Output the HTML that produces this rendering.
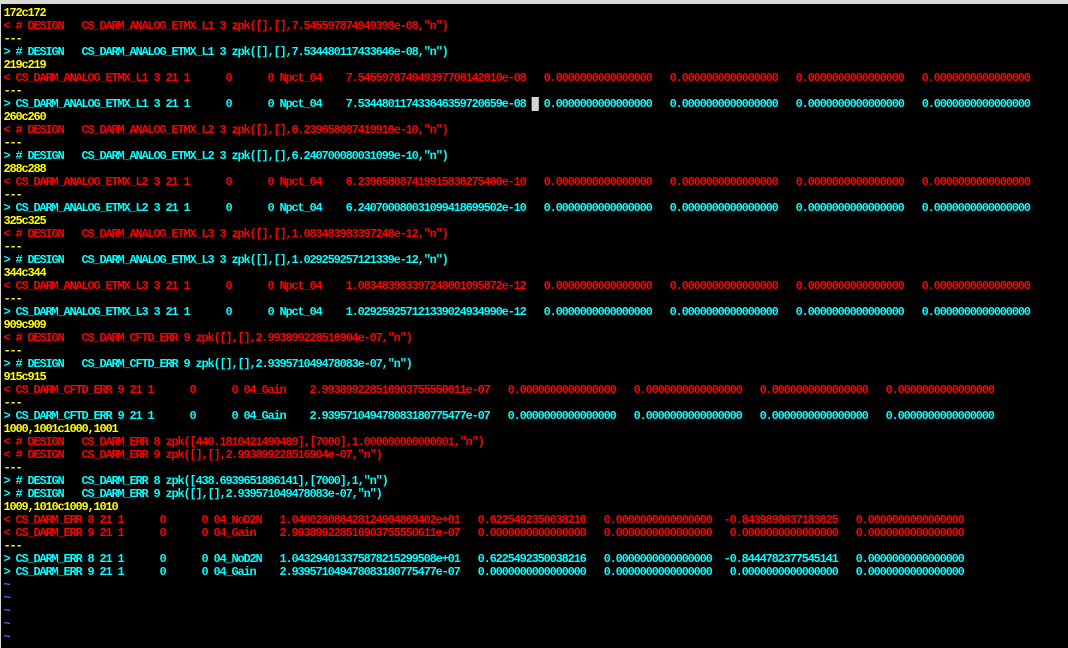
<!DOCTYPE html>
<html><head><meta charset="utf-8">
<style>
html,body{margin:0;padding:0;background:#000;width:1068px;height:648px;overflow:hidden;position:relative}
#top{position:absolute;left:0;top:0;width:1068px;height:4px;background:#dcd9d6}
#lft{position:absolute;left:0;top:4px;width:1px;height:644px;background:#d8d8d8}
pre{position:absolute;left:3.5px;top:6.5px;margin:0;font-family:"Liberation Mono",monospace;font-size:12px;font-weight:bold;letter-spacing:-1.2px;line-height:13px;white-space:pre}
.y{color:#ffff00}.r{color:#ff0000}.c{color:#00ffff}.b{color:#6060ff}
.cur{background:#d4d4d4;color:#d4d4d4}
</style></head><body>
<div id="top"></div><div id="lft"></div>
<pre><span class="y">172c172</span>
<span class="r">&lt; # DESIGN   CS_DARM_ANALOG_ETMX_L1 3 zpk([],[],7.545597874949398e-08,"n")</span>
<span class="y">---</span>
<span class="c">&gt; # DESIGN   CS_DARM_ANALOG_ETMX_L1 3 zpk([],[],7.534480117433646e-08,"n")</span>
<span class="y">219c219</span>
<span class="r">&lt; CS_DARM_ANALOG_ETMX_L1 3 21 1      0      0 Npct_04    7.545597874949397706142610e-08   0.0000000000000000   0.0000000000000000   0.0000000000000000   0.0000000000000000</span>
<span class="y">---</span>
<span class="c">&gt; CS_DARM_ANALOG_ETMX_L1 3 21 1      0      0 Npct_04    7.534480117433646359720659e-08 </span><span class="cur">█</span><span class="c"> 0.0000000000000000   0.0000000000000000   0.0000000000000000   0.0000000000000000</span>
<span class="y">260c260</span>
<span class="r">&lt; # DESIGN   CS_DARM_ANALOG_ETMX_L2 3 zpk([],[],6.239658087419916e-10,"n")</span>
<span class="y">---</span>
<span class="c">&gt; # DESIGN   CS_DARM_ANALOG_ETMX_L2 3 zpk([],[],6.240700080031099e-10,"n")</span>
<span class="y">288c288</span>
<span class="r">&lt; CS_DARM_ANALOG_ETMX_L2 3 21 1      0      0 Npct_04    6.239658087419915836275460e-10   0.0000000000000000   0.0000000000000000   0.0000000000000000   0.0000000000000000</span>
<span class="y">---</span>
<span class="c">&gt; CS_DARM_ANALOG_ETMX_L2 3 21 1      0      0 Npct_04    6.240700080031099418699502e-10   0.0000000000000000   0.0000000000000000   0.0000000000000000   0.0000000000000000</span>
<span class="y">325c325</span>
<span class="r">&lt; # DESIGN   CS_DARM_ANALOG_ETMX_L3 3 zpk([],[],1.083483983397248e-12,"n")</span>
<span class="y">---</span>
<span class="c">&gt; # DESIGN   CS_DARM_ANALOG_ETMX_L3 3 zpk([],[],1.029259257121339e-12,"n")</span>
<span class="y">344c344</span>
<span class="r">&lt; CS_DARM_ANALOG_ETMX_L3 3 21 1      0      0 Npct_04    1.083483983397248001095872e-12   0.0000000000000000   0.0000000000000000   0.0000000000000000   0.0000000000000000</span>
<span class="y">---</span>
<span class="c">&gt; CS_DARM_ANALOG_ETMX_L3 3 21 1      0      0 Npct_04    1.029259257121339024934990e-12   0.0000000000000000   0.0000000000000000   0.0000000000000000   0.0000000000000000</span>
<span class="y">909c909</span>
<span class="r">&lt; # DESIGN   CS_DARM_CFTD_ERR 9 zpk([],[],2.993899228516904e-07,"n")</span>
<span class="y">---</span>
<span class="c">&gt; # DESIGN   CS_DARM_CFTD_ERR 9 zpk([],[],2.939571049478083e-07,"n")</span>
<span class="y">915c915</span>
<span class="r">&lt; CS_DARM_CFTD_ERR 9 21 1      0      0 04_Gain    2.993899228516903755550611e-07   0.0000000000000000   0.0000000000000000   0.0000000000000000   0.0000000000000000</span>
<span class="y">---</span>
<span class="c">&gt; CS_DARM_CFTD_ERR 9 21 1      0      0 04_Gain    2.939571049478083180775477e-07   0.0000000000000000   0.0000000000000000   0.0000000000000000   0.0000000000000000</span>
<span class="y">1000,1001c1000,1001</span>
<span class="r">&lt; # DESIGN   CS_DARM_ERR 8 zpk([440.1810421490489],[7000],1.000000000000001,"n")</span>
<span class="r">&lt; # DESIGN   CS_DARM_ERR 9 zpk([],[],2.993899228516904e-07,"n")</span>
<span class="y">---</span>
<span class="c">&gt; # DESIGN   CS_DARM_ERR 8 zpk([438.6939651886141],[7000],1,"n")</span>
<span class="c">&gt; # DESIGN   CS_DARM_ERR 9 zpk([],[],2.939571049478083e-07,"n")</span>
<span class="y">1009,1010c1009,1010</span>
<span class="r">&lt; CS_DARM_ERR 8 21 1      0      0 04_NoD2N   1.040028086428124964868402e+01   0.6225492350038216   0.0000000000000000  -0.8439898637183625   0.0000000000000000</span>
<span class="r">&lt; CS_DARM_ERR 9 21 1      0      0 04_Gain    2.993899228516903755550611e-07   0.0000000000000000   0.0000000000000000   0.0000000000000000   0.0000000000000000</span>
<span class="y">---</span>
<span class="c">&gt; CS_DARM_ERR 8 21 1      0      0 04_NoD2N   1.043294013375878215299508e+01   0.6225492350038216   0.0000000000000000  -0.8444782377545141   0.0000000000000000</span>
<span class="c">&gt; CS_DARM_ERR 9 21 1      0      0 04_Gain    2.939571049478083180775477e-07   0.0000000000000000   0.0000000000000000   0.0000000000000000   0.0000000000000000</span>
<span class="b">~</span>
<span class="b">~</span>
<span class="b">~</span>
<span class="b">~</span>
<span class="b">~</span>
<span class="b">~</span></pre>
</body></html>
